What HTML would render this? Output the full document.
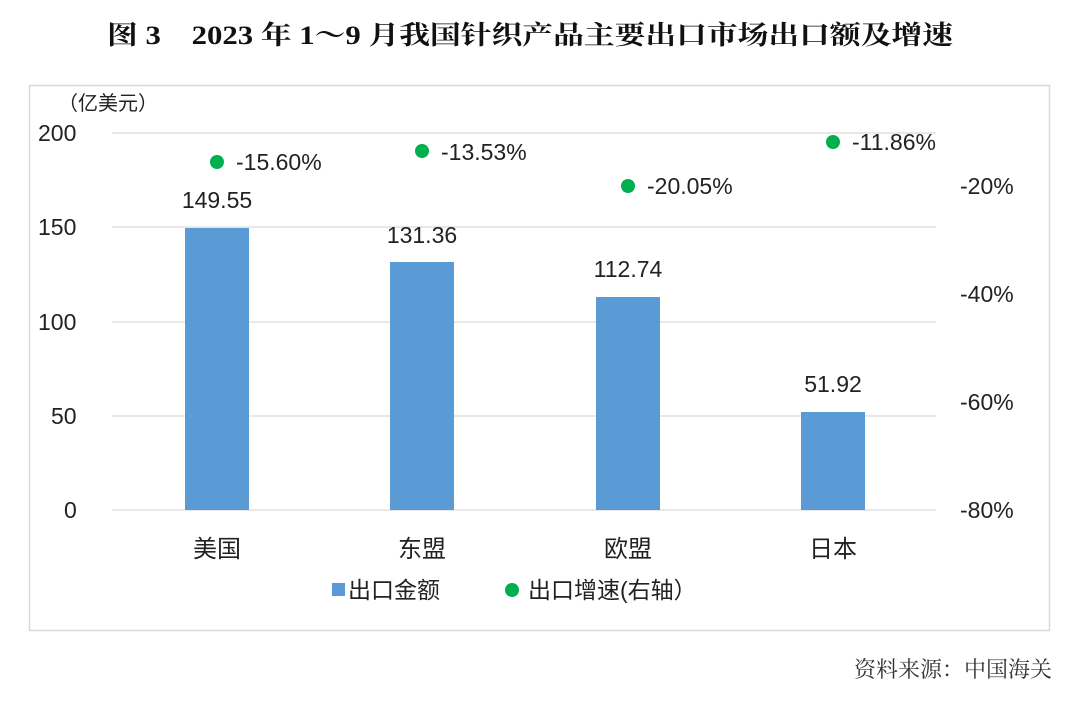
<!DOCTYPE html>
<html><head><meta charset="utf-8"><style>
html,body{margin:0;padding:0;background:#fff;}
svg{display:block;}
</style></head><body>
<svg width="1080" height="719" xmlns="http://www.w3.org/2000/svg">
<text x="530" y="44" text-anchor="middle" font-family="'Liberation Serif','Noto Serif CJK SC',serif" font-size="26" font-weight="bold" fill="#111" textLength="846" lengthAdjust="spacingAndGlyphs">图 3　2023 年 1～9 月我国针织产品主要出口市场出口额及增速</text>
<rect x="29.5" y="85.5" width="1020" height="545" fill="#fff" stroke="#d9d9d9" stroke-width="1.5"/>
<g stroke="#d9d9d9" stroke-width="1.3">
<line x1="112" y1="133" x2="936" y2="133"/>
<line x1="112" y1="227" x2="936" y2="227"/>
<line x1="112" y1="322" x2="936" y2="322"/>
<line x1="112" y1="416" x2="936" y2="416"/>
<line x1="112" y1="510" x2="936" y2="510"/>
</g>
<g font-family="'Liberation Sans','Noto Sans CJK SC',sans-serif" font-size="23" fill="#222">
<text x="58" y="110" font-size="20">（亿美元）</text>
<text x="38" y="141">200</text>
<text x="38" y="235">150</text>
<text x="38" y="330">100</text>
<text x="51" y="424">50</text>
<text x="64" y="518">0</text>
<text x="960" y="194">-20%</text>
<text x="960" y="302">-40%</text>
<text x="960" y="410">-60%</text>
<text x="960" y="518">-80%</text>
</g>
<g fill="#5b9bd5">
<rect x="185" y="228" width="64" height="282"/>
<rect x="390" y="262" width="64" height="248"/>
<rect x="596" y="297" width="64" height="213"/>
<rect x="801" y="412" width="64" height="98"/>
</g>
<g font-family="'Liberation Sans','Noto Sans CJK SC',sans-serif" font-size="23" fill="#222" text-anchor="middle">
<text x="217" y="208">149.55</text>
<text x="422" y="243">131.36</text>
<text x="628" y="277">112.74</text>
<text x="833" y="392">51.92</text>
<text x="217" y="557" font-size="24">美国</text>
<text x="422" y="557" font-size="24">东盟</text>
<text x="628" y="557" font-size="24">欧盟</text>
<text x="833" y="557" font-size="24">日本</text>
</g>
<g fill="#00b050">
<circle cx="217" cy="162" r="7"/>
<circle cx="422" cy="151" r="7"/>
<circle cx="628" cy="186" r="7"/>
<circle cx="833" cy="142" r="7"/>
<circle cx="512" cy="590" r="7"/>
</g>
<g font-family="'Liberation Sans','Noto Sans CJK SC',sans-serif" font-size="23" fill="#222">
<text x="236" y="170">-15.60%</text>
<text x="441" y="160">-13.53%</text>
<text x="647" y="194">-20.05%</text>
<text x="852" y="150">-11.86%</text>
<text x="348" y="598">出口金额</text>
<text x="528" y="598">出口增速(右轴）</text>
</g>
<rect x="332" y="583" width="13" height="13" fill="#5b9bd5"/>
<text x="1052" y="677" text-anchor="end" font-family="'Liberation Serif','Noto Serif CJK SC',serif" font-size="22" fill="#333">资料来源：中国海关</text>
</svg>
</body></html>
